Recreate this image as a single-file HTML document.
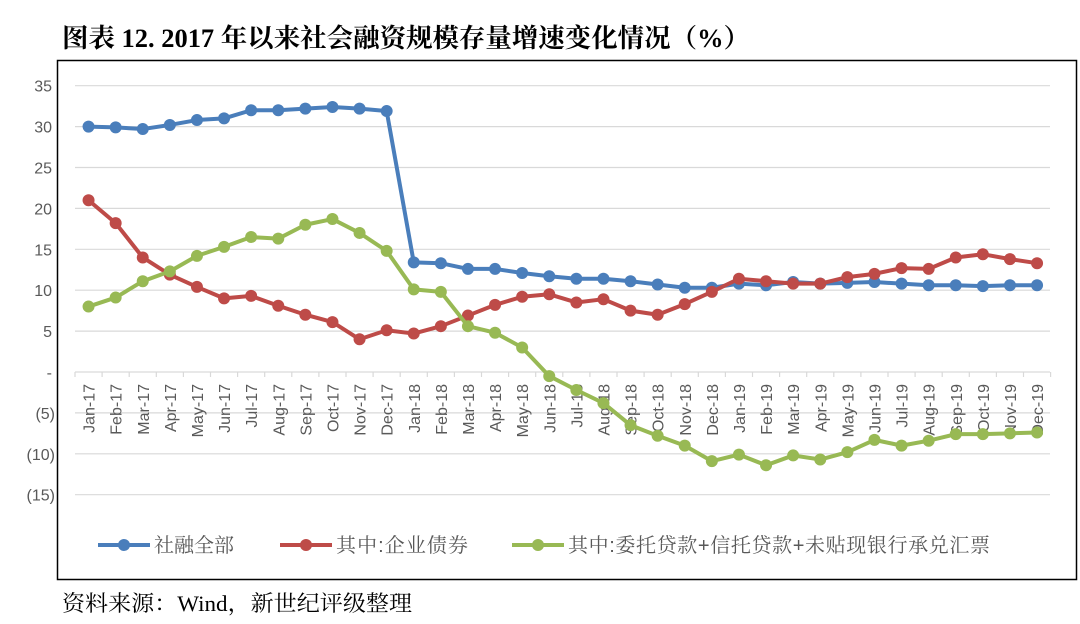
<!DOCTYPE html>
<html><head><meta charset="utf-8"><style>
body{margin:0;background:#fff;width:1080px;height:624px;overflow:hidden}
svg{display:block}
</style></head><body>
<svg width="1080" height="624" xmlns="http://www.w3.org/2000/svg" id="s">
<text x="62" y="47" font-family="Liberation Serif,'Noto Serif CJK SC',serif" font-size="26" font-weight="bold" fill="#000" textLength="688" lengthAdjust="spacingAndGlyphs">图表 12. 2017 年以来社会融资规模存量增速变化情况（%）</text>
<rect x="57.5" y="60.5" width="1019" height="519" fill="#fff" stroke="#000" stroke-width="1.5"/>
<text x="62" y="611" font-family="Liberation Serif,'Noto Serif CJK SC',serif" font-size="22" fill="#000" textLength="350" lengthAdjust="spacingAndGlyphs">资料来源：Wind，新世纪评级整理</text>
<g id="g"></g>
</svg>
<script>
const ns="http://www.w3.org/2000/svg",g=document.getElementById('g');
function el(t,a,txt){const e=document.createElementNS(ns,t);for(const k in a)e.setAttribute(k,a[k]);if(txt!=null)e.textContent=txt;g.appendChild(e);return e;}
const Y=v=>372-8.18*v, X0=75, W=27.1, X=i=>X0+W*(i+0.5);
const F="Liberation Sans,'Noto Sans CJK SC',sans-serif";
const FS="Liberation Sans,'Noto Serif CJK SC',serif";
const lab={35:"35",30:"30",25:"25",20:"20",15:"15",10:"10",5:"5",0:"-","-5":"(5)","-10":"(10)","-15":"(15)"};
for(let v=35;v>=-15;v-=5){ if(v!==0) el('line',{x1:75,x2:1050,y1:Y(v),y2:Y(v),stroke:'#d9d9d9','stroke-width':1.2});
 el('text',{x:v<0?55:52,y:Y(v)+6,'text-anchor':'end','font-family':F,'font-size':16,fill:'#595959'},lab[v]);}
el('line',{x1:75,x2:1050,y1:Y(0),y2:Y(0),stroke:'#d9d9d9','stroke-width':1.2});
const m=["Jan","Feb","Mar","Apr","May","Jun","Jul","Aug","Sep","Oct","Nov","Dec"];
for(let i=0;i<=36;i++)el('line',{x1:X0+W*i,x2:X0+W*i,y1:Y(0),y2:Y(0)+5,stroke:'#d9d9d9','stroke-width':1.2});
for(let i=0;i<36;i++){const t=m[i%12]+"-"+(17+Math.floor(i/12));const x=X(i)+6,y=Y(0)+12;
 el('text',{x:x,y:y,transform:`rotate(-90 ${x} ${y})`,'text-anchor':'end','font-family':F,'font-size':16,fill:'#595959'},t);}
const B=[30.0,29.9,29.7,30.2,30.8,31.0,32.0,32.0,32.2,32.4,32.2,31.9,13.4,13.3,12.6,12.6,12.1,11.7,11.4,11.4,11.1,10.7,10.3,10.3,10.8,10.6,11.0,10.8,10.9,11.0,10.8,10.6,10.6,10.5,10.6,10.6];
const R=[21.0,18.2,14.0,11.9,10.4,9.0,9.3,8.1,7.0,6.1,4.0,5.1,4.7,5.6,6.9,8.2,9.2,9.5,8.5,8.9,7.5,7.0,8.3,9.8,11.4,11.1,10.8,10.8,11.6,12.0,12.7,12.6,14.0,14.4,13.8,13.3];
const G=[8.0,9.1,11.1,12.3,14.2,15.3,16.5,16.3,18.0,18.7,17.0,14.8,10.1,9.8,5.6,4.8,3.0,-0.5,-2.2,-3.8,-6.5,-7.8,-9.0,-10.9,-10.1,-11.4,-10.2,-10.7,-9.8,-8.3,-9.0,-8.4,-7.6,-7.6,-7.5,-7.4];
function ser(d,c){el('polyline',{points:d.map((v,i)=>X(i)+","+Y(v)).join(" "),fill:'none',stroke:c,'stroke-width':4,'stroke-linejoin':'round'});
 d.forEach((v,i)=>el('circle',{cx:X(i),cy:Y(v),r:6,fill:c}));}
ser(B,'#4a7ebb');ser(R,'#be4b48');ser(G,'#98b954');
const L=[[98,'#4a7ebb','社融全部',80],[280,'#be4b48','其中:企业债券',132],[512,'#98b954','其中:委托贷款+信托贷款+未贴现银行承兑汇票',422]];
L.forEach(([x,c,t,w])=>{el('line',{x1:x,x2:x+52,y1:545,y2:545,stroke:c,'stroke-width':4});el('circle',{cx:x+26,cy:545,r:6,fill:c});
 el('text',{x:x+56,y:552,'font-family':FS,'font-size':20,fill:'#595959',textLength:w,lengthAdjust:'spacing'},t);});
</script>
</body></html>
